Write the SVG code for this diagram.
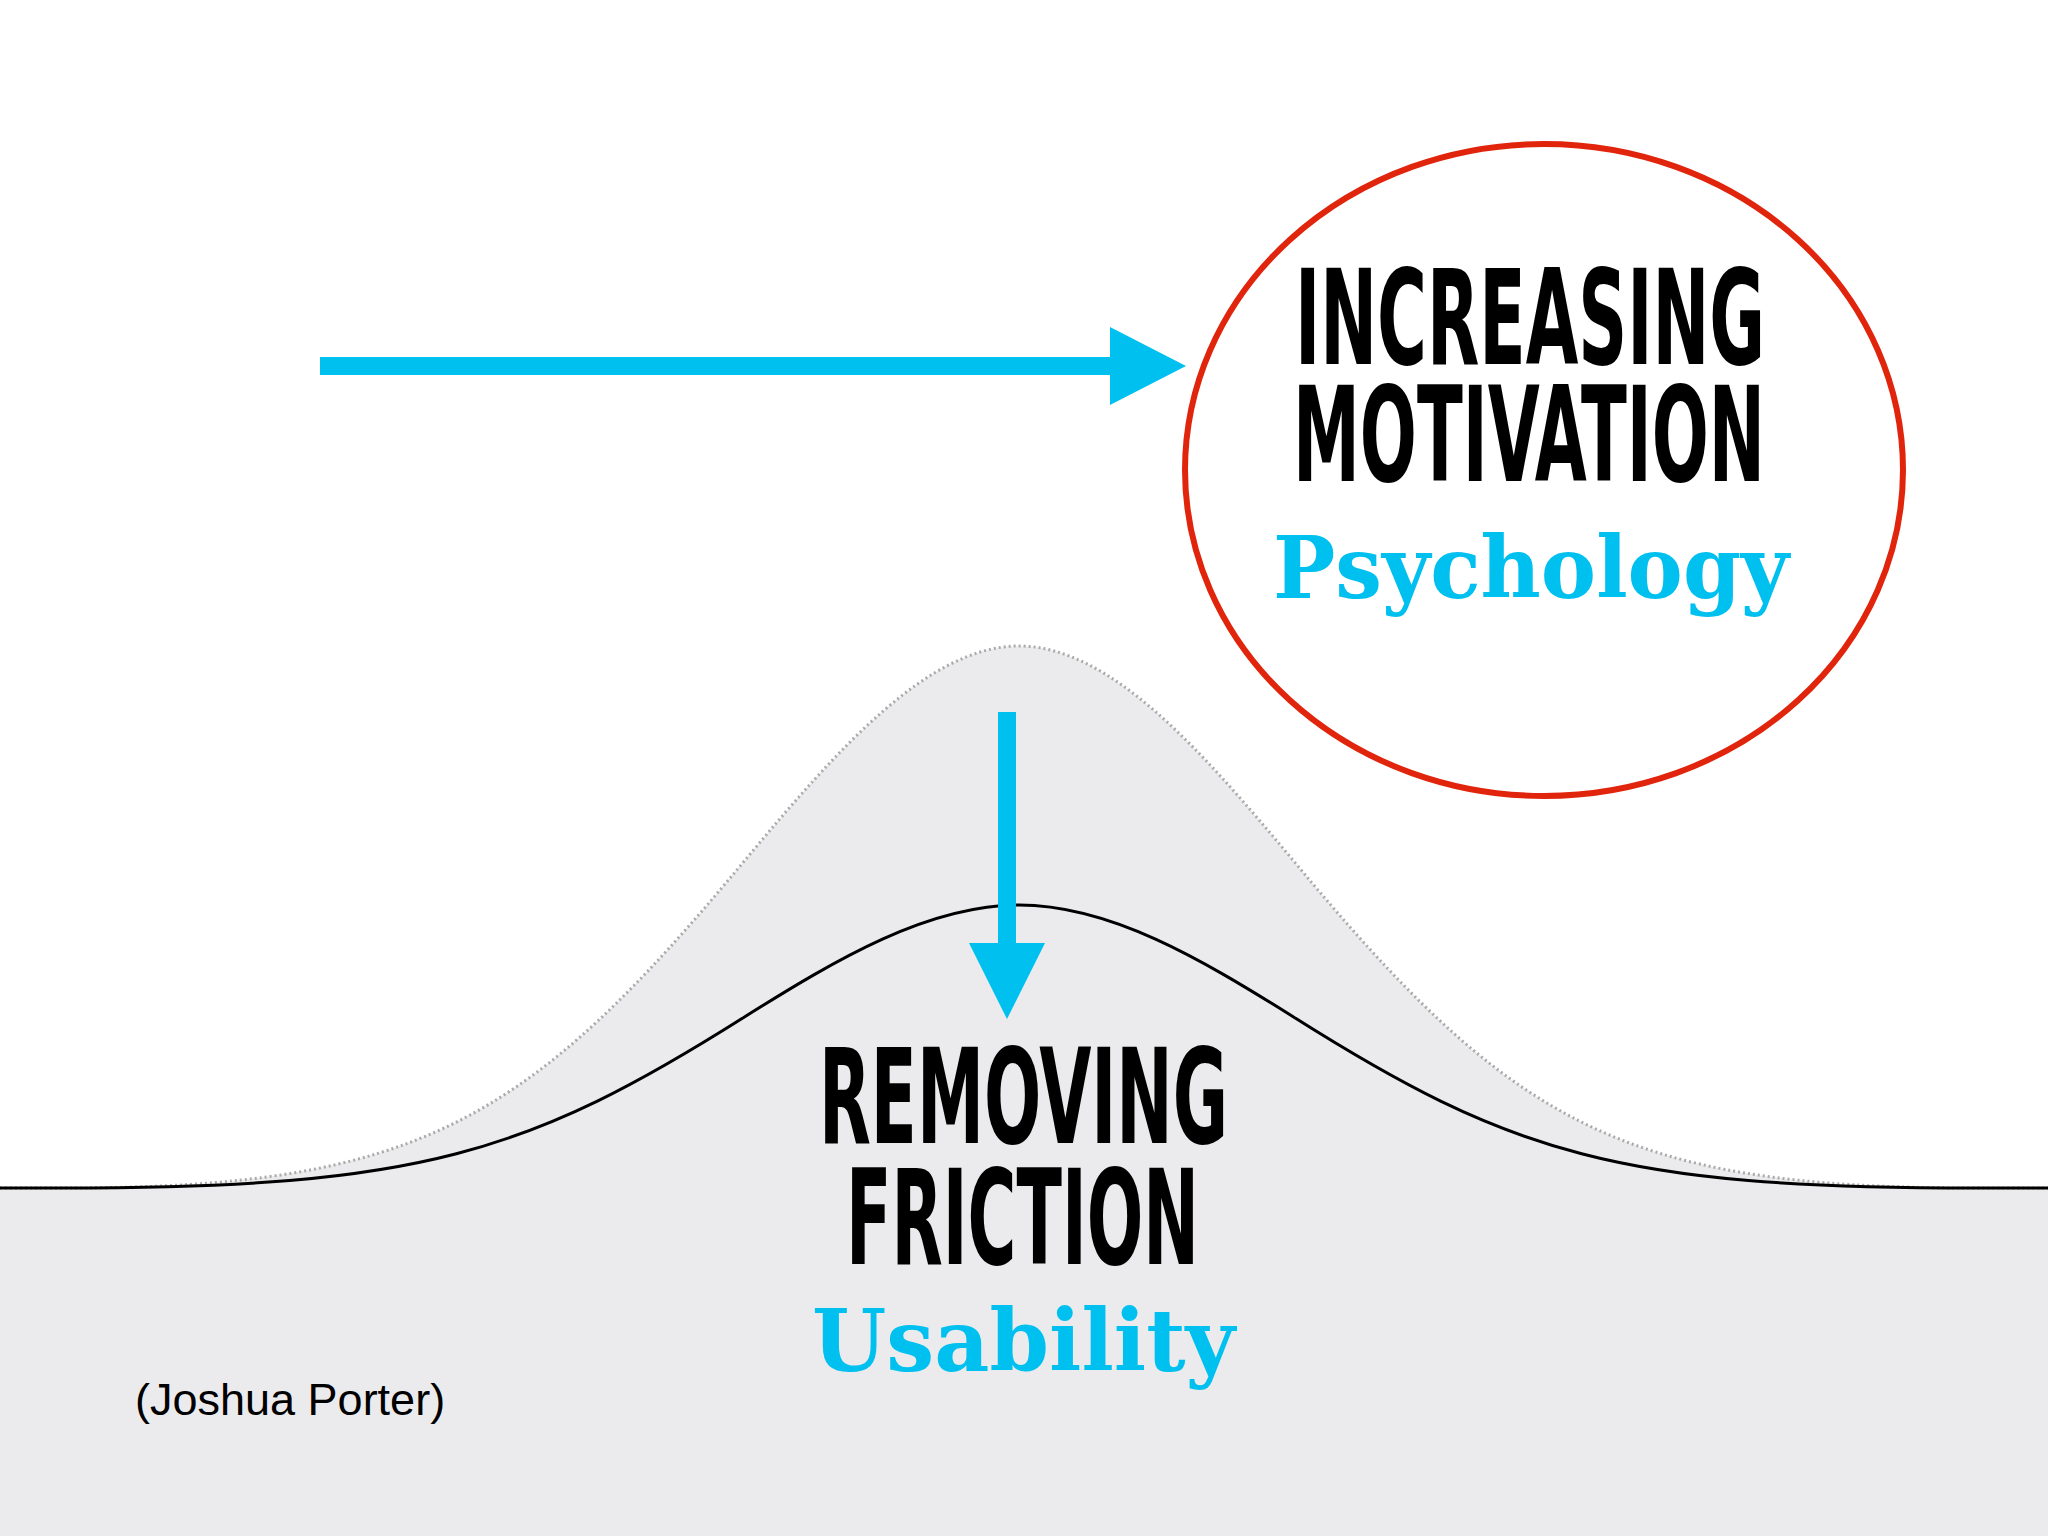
<svg xmlns="http://www.w3.org/2000/svg" width="2048" height="1536" viewBox="0 0 2048 1536">
<style>
.h{font-family:"DejaVu Sans Condensed","DejaVu Sans",sans-serif;font-weight:bold;font-size:132px;fill:#000}
.s{font-family:"DejaVu Serif",serif;font-weight:bold;font-size:86px;fill:#00c0f0}
.blue{fill:#00c0f0}
</style>
<rect width="2048" height="1536" fill="#fff"/>
<g id="hill">
<path d="M0,1188 L64,1188 C419,1188 528,1122 746,859 C837,750 928,646 1019,646 C1110,646 1201,750 1292,859 C1510,1122 1619,1188 1974,1188 L2048,1188 L2048,1536 L0,1536 Z" fill="#ebebed"/>
<path d="M0,1188 L64,1188 C419,1188 528,1122 746,859 C837,750 928,646 1019,646 C1110,646 1201,750 1292,859 C1510,1122 1619,1188 1974,1188 L2048,1188" fill="none" stroke="#aaa" stroke-width="3" stroke-dasharray="2 3"/>
<path d="M0,1188 L64,1188 C419,1188 528,1154 746,1016 C837,959 928,905 1019,905 C1110,905 1201,959 1292,1016 C1510,1154 1619,1188 1974,1188 L2048,1188" fill="none" stroke="#000" stroke-width="3"/>
</g>
<g id="connectors">
<rect x="320" y="357" width="800" height="18" class="blue"/>
<polygon points="1110,327 1186,366 1110,405" class="blue"/>
<rect x="998" y="712" width="18" height="240" class="blue"/>
<polygon points="969,943 1045,943 1007,1019" class="blue"/>
</g>
<g id="motivation">
<ellipse cx="1544" cy="470" rx="359" ry="326" fill="none" stroke="#e0250c" stroke-width="6"/>
<text class="h" x="1295" y="364" textLength="470" lengthAdjust="spacingAndGlyphs">INCREASING</text>
<text class="h" x="1293" y="481" textLength="472" lengthAdjust="spacingAndGlyphs">MOTIVATION</text>
<text class="s" x="1273" y="598" textLength="516" lengthAdjust="spacingAndGlyphs">Psychology</text>
</g>
<g id="friction">
<text class="h" x="819" y="1143" textLength="409" lengthAdjust="spacingAndGlyphs">REMOVING</text>
<text class="h" x="846" y="1264" textLength="353" lengthAdjust="spacingAndGlyphs">FRICTION</text>
<text class="s" x="812" y="1371" textLength="423" lengthAdjust="spacingAndGlyphs">Usability</text>
</g>
<text x="135" y="1415" font-family="Liberation Sans,Arial,sans-serif" font-size="45" fill="#000">(Joshua Porter)</text>
</svg>
